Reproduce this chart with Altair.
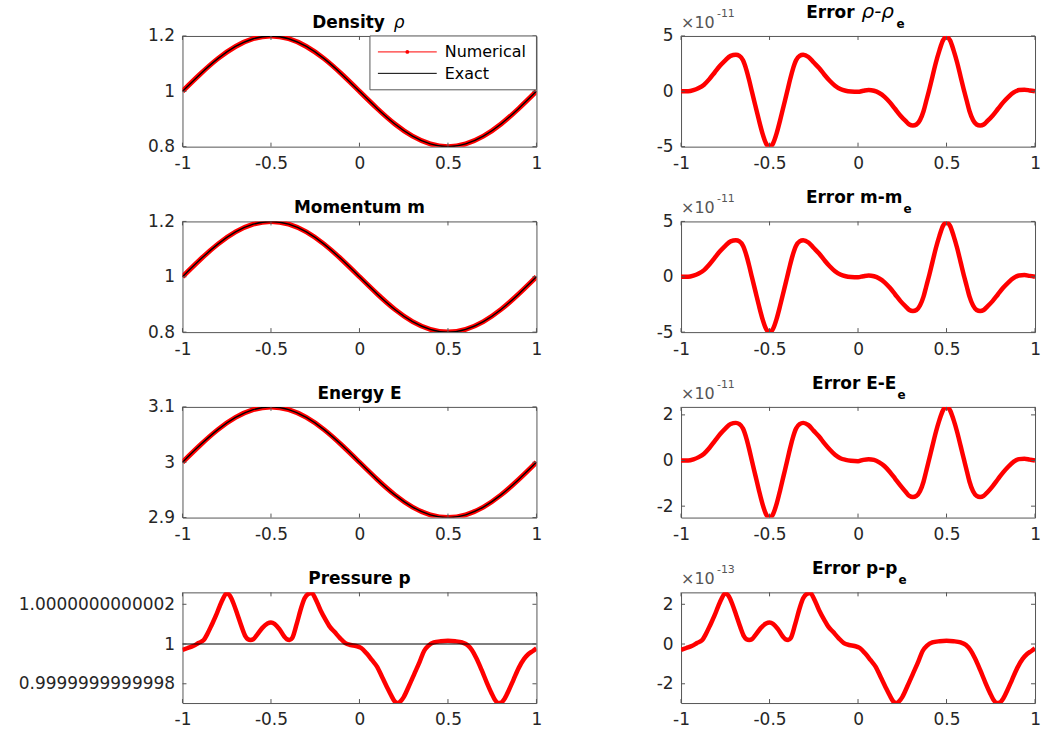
import altair as alt
import pandas as pd

# ---------------------------------------------------------------------------
# Data
# ---------------------------------------------------------------------------
# conserved variables on a coarse grid (smooth profiles)
x_grid = [-1.0, -0.9, -0.8, -0.7, -0.6, -0.5, -0.4, -0.3, -0.2, -0.1, 0.0,
          0.1, 0.2, 0.3, 0.4, 0.5, 0.6, 0.7, 0.8, 0.9, 1.0]
density = [1.000, 1.062, 1.118, 1.162, 1.190, 1.200, 1.190, 1.162, 1.118, 1.062, 1.000,
           0.938, 0.882, 0.838, 0.810, 0.800, 0.810, 0.838, 0.882, 0.938, 1.000]
momentum = [1.000, 1.062, 1.118, 1.162, 1.190, 1.200, 1.190, 1.162, 1.118, 1.062, 1.000,
            0.938, 0.882, 0.838, 0.810, 0.800, 0.810, 0.838, 0.882, 0.938, 1.000]
energy = [3.000, 3.031, 3.059, 3.081, 3.095, 3.100, 3.095, 3.081, 3.059, 3.031, 3.000,
          2.969, 2.941, 2.919, 2.905, 2.900, 2.905, 2.919, 2.941, 2.969, 3.000]

# errors of density / momentum (units of 1e-11)
err_x = [-1.00, -0.96, -0.93, -0.90, -0.87, -0.84, -0.81, -0.78, -0.75, -0.72, -0.69,
         -0.67, -0.65, -0.63, -0.615, -0.60, -0.58, -0.56, -0.54, -0.52, -0.50,
         -0.48, -0.46, -0.44, -0.42, -0.40, -0.385, -0.37, -0.35, -0.33, -0.31,
         -0.28, -0.25, -0.22, -0.19, -0.16, -0.13, -0.10, -0.07, -0.04, 0.00,
         0.03, 0.06, 0.09, 0.12, 0.15, 0.18, 0.21, 0.24, 0.27, 0.29, 0.31,
         0.33, 0.35, 0.37, 0.385, 0.40, 0.42, 0.44, 0.46, 0.48, 0.50,
         0.52, 0.54, 0.56, 0.58, 0.60, 0.615, 0.63, 0.65, 0.67, 0.69,
         0.71, 0.73, 0.76, 0.79, 0.82, 0.85, 0.88, 0.91, 0.94, 0.97, 1.00]
err_rho = [0.00, 0.00, 0.10, 0.30, 0.60, 1.10, 1.70, 2.30, 2.80, 3.20, 3.30,
           3.20, 2.80, 1.90, 1.00, 0.00, -1.30, -2.60, -3.80, -4.70, -5.00,
           -4.70, -3.80, -2.60, -1.30, 0.00, 1.00, 1.90, 2.80, 3.20, 3.30,
           3.10, 2.60, 2.10, 1.50, 0.95, 0.50, 0.20, 0.05, -0.02, -0.05,
           0.05, 0.12, 0.05, -0.15, -0.50, -1.00, -1.60, -2.20, -2.70, -3.00, -3.10,
           -3.00, -2.60, -1.80, -0.90, 0.00, 1.30, 2.60, 3.70, 4.60, 4.90,
           4.60, 3.70, 2.60, 1.30, 0.00, -0.90, -1.80, -2.60, -3.00, -3.10,
           -3.00, -2.70, -2.20, -1.60, -1.00, -0.50, -0.10, 0.12, 0.15, 0.08, 0.00]
err_m = [0.00, 0.00, 0.10, 0.30, 0.60, 1.10, 1.70, 2.30, 2.80, 3.20, 3.30,
         3.20, 2.80, 1.90, 1.00, 0.00, -1.30, -2.60, -3.80, -4.70, -5.00,
         -4.70, -3.80, -2.60, -1.30, 0.00, 1.00, 1.90, 2.80, 3.20, 3.30,
         3.10, 2.60, 2.10, 1.50, 0.95, 0.50, 0.20, 0.05, -0.02, -0.05,
         0.05, 0.12, 0.05, -0.15, -0.50, -1.00, -1.60, -2.20, -2.70, -3.00, -3.10,
         -3.00, -2.60, -1.80, -0.90, 0.00, 1.30, 2.60, 3.70, 4.60, 4.90,
         4.60, 3.70, 2.60, 1.30, 0.00, -0.90, -1.80, -2.60, -3.00, -3.10,
         -3.00, -2.70, -2.20, -1.60, -1.00, -0.50, -0.10, 0.12, 0.15, 0.08, 0.00]
# error of energy (units of 1e-11)
err_E = [0.00, 0.00, 0.05, 0.15, 0.30, 0.55, 0.85, 1.15, 1.40, 1.60, 1.65,
         1.60, 1.40, 0.95, 0.50, 0.00, -0.65, -1.30, -1.90, -2.35, -2.50,
         -2.35, -1.90, -1.30, -0.65, 0.00, 0.50, 0.95, 1.40, 1.60, 1.65,
         1.55, 1.30, 1.05, 0.75, 0.48, 0.25, 0.10, 0.03, -0.01, -0.03,
         0.03, 0.06, 0.03, -0.08, -0.25, -0.50, -0.80, -1.10, -1.38, -1.55, -1.60,
         -1.55, -1.35, -0.93, -0.47, 0.00, 0.63, 1.25, 1.78, 2.20, 2.35,
         2.20, 1.78, 1.25, 0.63, 0.00, -0.47, -0.93, -1.35, -1.55, -1.60,
         -1.55, -1.40, -1.13, -0.82, -0.52, -0.26, -0.05, 0.06, 0.08, 0.04, 0.00]

# pressure deviation p - 1 (units of 1e-13); exact pressure is 1
p_x = [-1.00, -0.97, -0.94, -0.91, -0.88, -0.86, -0.835, -0.81, -0.79, -0.77, -0.75,
       -0.73, -0.71, -0.69, -0.665, -0.645, -0.63, -0.615, -0.60, -0.58, -0.55, -0.52,
       -0.50, -0.48, -0.45, -0.425, -0.41, -0.395, -0.38, -0.355, -0.33, -0.31,
       -0.29, -0.27, -0.25, -0.22, -0.19, -0.17, -0.14, -0.11, -0.08, -0.05,
       -0.02, 0.01, 0.04, 0.07, 0.10, 0.13, 0.155, 0.18, 0.20, 0.215, 0.23,
       0.25, 0.28, 0.31, 0.34, 0.365, 0.39, 0.42, 0.46, 0.50, 0.54, 0.58,
       0.61, 0.635, 0.66, 0.69, 0.72, 0.745, 0.765, 0.785, 0.80, 0.82,
       0.845, 0.87, 0.90, 0.93, 0.955, 0.98, 1.00]
p_dev = [-0.30, -0.20, -0.10, 0.05, 0.20, 0.50, 0.96, 1.45, 1.90, 2.30, 2.55,
         2.40, 2.00, 1.50, 0.85, 0.40, 0.24, 0.20, 0.24, 0.45, 0.80, 1.03,
         1.08, 1.02, 0.72, 0.38, 0.24, 0.20, 0.30, 1.00, 1.80, 2.30,
         2.52, 2.57, 2.30, 1.70, 1.20, 0.90, 0.60, 0.30, 0.05, -0.05,
         -0.10, -0.20, -0.47, -0.80, -1.15, -1.70, -2.16, -2.60, -2.90, -2.97, -2.90,
         -2.67, -2.10, -1.50, -0.90, -0.35, -0.08, 0.08, 0.14, 0.16, 0.14, 0.08,
         -0.05, -0.30, -0.70, -1.30, -1.95, -2.45, -2.80, -2.97, -2.95, -2.75,
         -2.30, -1.80, -1.20, -0.75, -0.50, -0.35, -0.22]
p_exact_x = [-1.0, 1.0]
p_exact_dev = [0.0, 0.0]

x_ticks = [-1, -0.5, 0, 0.5, 1]

# ---------------------------------------------------------------------------
# Styling
# ---------------------------------------------------------------------------
W, H = 355, 111
FONT = "DejaVu Sans"
BOX = "#555555"
LABEL = "#262626"
RED = "#ff0000"
TICK = 4
one = pd.DataFrame({"d": [0]})


def x_enc():
    return alt.X(
        "x:Q",
        scale=alt.Scale(domain=[-1, 1], nice=False, zero=False),
        axis=alt.Axis(values=x_ticks, labelExpr="datum.value + ''", title=None,
                      ticks=False, tickSize=0, domain=False, grid=False,
                      labelFont=FONT, labelFontSize=17, labelColor=LABEL,
                      labelPadding=9, labelFlush=False, labelOverlap=False),
    )


def y_enc(domain, ticks, expr="datum.value + ''"):
    return alt.Y(
        "y:Q",
        scale=alt.Scale(domain=domain, nice=False, zero=False),
        axis=alt.Axis(values=ticks, labelExpr=expr, title=None,
                      ticks=False, tickSize=0, domain=False, grid=False,
                      labelFont=FONT, labelFontSize=17, labelColor=LABEL,
                      labelPadding=8, labelOverlap=False),
    )


def line(xs, ys, X, Y, color, width, interp="monotone"):
    df = pd.DataFrame({"x": xs, "y": ys})
    return alt.Chart(df).mark_line(color=color, strokeWidth=width, interpolate=interp,
                                   clip=True).encode(x=X, y=Y)


def inner_ticks(X, Y, y_ticks):
    xt = pd.DataFrame({"x": x_ticks})
    yt = pd.DataFrame({"y": y_ticks})
    style = dict(color=BOX, strokeWidth=1)
    return [
        alt.Chart(xt).mark_rule(**style).encode(x=X, y=alt.value(H), y2=alt.value(H - TICK)),
        alt.Chart(xt).mark_rule(**style).encode(x=X, y=alt.value(0), y2=alt.value(TICK)),
        alt.Chart(yt).mark_rule(**style).encode(y=Y, x=alt.value(0), x2=alt.value(TICK)),
        alt.Chart(yt).mark_rule(**style).encode(y=Y, x=alt.value(W), x2=alt.value(W - TICK)),
    ]


def text(t, x, y, size=17, bold=True, italic=False, align="center", color="black"):
    return alt.Chart(one).mark_text(
        text=t, font=FONT, fontSize=size, fontWeight="bold" if bold else "normal",
        fontStyle="italic" if italic else "normal", align=align,
        baseline="alphabetic", color=color,
    ).encode(x=alt.value(x), y=alt.value(y))


def err_title(main, anchor):
    # main part right-aligned at anchor, subscript e just after it
    return [text(main, anchor, -18, align="right"),
            text("e", anchor + 1, -8, size=12, align="left")]


def exponent(power):
    return [text("\u00d710", 0, -8, size=16, bold=False, align="left", color="#555555"),
            text(power, 36, -19, size=11, bold=False, align="left", color="#555555")]


def anchor_point(x, y):
    # invisible point that fixes the outer extent of the figure
    return alt.Chart(one).mark_rule(color="white", opacity=0, strokeWidth=0.01).encode(
        x=alt.value(x), x2=alt.value(x), y=alt.value(y), y2=alt.value(y))


def conserved_panel(values, domain, ticks, title_layers, extra=()):
    X, Y = x_enc(), y_enc(domain, ticks)
    layers = [line(x_grid, values, X, Y, RED, 5, "natural"),
              line(x_grid, values, X, Y, "black", 1.4, "natural")]
    layers += inner_ticks(X, Y, ticks) + list(title_layers) + list(extra)
    return alt.layer(*layers).properties(width=W, height=H)


def error_panel(xs, ys, domain, ticks, title_layers, power, extra=()):
    X, Y = x_enc(), y_enc(domain, ticks)
    layers = [line(xs, ys, X, Y, RED, 4.5)]
    layers += inner_ticks(X, Y, ticks) + list(title_layers) + exponent(power) + list(extra)
    return alt.layer(*layers).properties(width=W, height=H)


# legend of the first panel
legend = [
    alt.Chart(one).mark_rect(fill="white", stroke=BOX, strokeWidth=1).encode(
        x=alt.value(188), x2=alt.value(W), y=alt.value(0), y2=alt.value(54)),
    alt.Chart(one).mark_rule(color=RED, strokeWidth=1).encode(
        x=alt.value(196), x2=alt.value(255), y=alt.value(16)),
    alt.Chart(one).mark_point(color=RED, filled=True, size=14, opacity=1).encode(
        x=alt.value(225.5), y=alt.value(16)),
    alt.Chart(one).mark_rule(color="black", strokeWidth=1).encode(
        x=alt.value(196), x2=alt.value(255), y=alt.value(37.5)),
    alt.Chart(one).mark_text(text="Numerical", font=FONT, fontSize=16, align="left",
                             baseline="middle", color="black").encode(
        x=alt.value(263), y=alt.value(16.5)),
    alt.Chart(one).mark_text(text="Exact", font=FONT, fontSize=16, align="left",
                             baseline="middle", color="black").encode(
        x=alt.value(263), y=alt.value(38)),
]

density_panel = conserved_panel(
    density, [0.8, 1.2], [0.8, 1, 1.2],
    [text("Density", 203, -8, align="right"),
     text("\u03c1", 212, -8, bold=False, italic=True, align="left")],
    extra=legend + [anchor_point(-182, -34)],
)
momentum_panel = conserved_panel(
    momentum, [0.8, 1.2], [0.8, 1, 1.2], [text("Momentum m", W / 2, -8)])
energy_panel = conserved_panel(
    energy, [2.9, 3.1], [2.9, 3, 3.1], [text("Energy E", W / 2, -8)])

# pressure, plotted as deviation from 1 and labelled with the full value
pX = x_enc()
p_ticks = [-2, 0, 2]
p_domain = [-2.97, 2.6]
pY = y_enc(p_domain, p_ticks,
           "datum.value == 0 ? '1' : (datum.value > 0 ? '1.000000000000' + datum.value"
           " : '0.999999999999' + (10 + datum.value))")
pressure_panel = alt.layer(
    line(p_x, p_dev, pX, pY, RED, 4.5),
    line(p_exact_x, p_exact_dev, pX, pY, "black", 1.2, "linear"),
    *inner_ticks(pX, pY, p_ticks),
    text("Pressure p", W / 2, -8),
).properties(width=W, height=H)

err_rho_panel = error_panel(
    err_x, err_rho, [-5, 5], [-5, 0, 5],
    [text("Error", 174, -18, align="right"),
     text("\u03c1-\u03c1", 181, -18, size=20, bold=False, italic=True, align="left"),
     text("e", 216, -8, size=12, align="left")],
    "-11")
err_m_panel = error_panel(err_x, err_m, [-5, 5], [-5, 0, 5],
                          err_title("Error m-m", 222), "-11")
err_E_panel = error_panel(err_x, err_E, [-2.5, 2.35], [-2, 0, 2],
                          err_title("Error E-E", 216), "-11")
err_p_panel = error_panel(p_x, p_dev, p_domain, p_ticks,
                          err_title("Error p-p", 217), "-13",
                          extra=[anchor_point(W + 4, H + 37)])

panels = [density_panel, err_rho_panel,
          momentum_panel, err_m_panel,
          energy_panel, err_E_panel,
          pressure_panel, err_p_panel]

chart = alt.concat(
    *panels, columns=2, spacing={"row": 75, "column": 145}, bounds="flush"
).properties(
    padding=0, background="white"
).configure(font=FONT).configure_view(stroke=BOX, strokeWidth=1)

chart.save("out.html", embed_options={"renderer": "svg", "actions": False})
